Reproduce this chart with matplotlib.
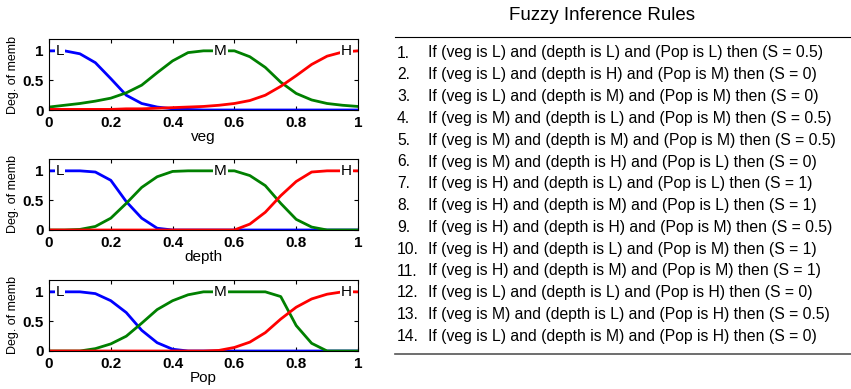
import numpy as np
import matplotlib
matplotlib.use("Agg")
from matplotlib import pyplot as plt
from matplotlib.lines import Line2D

plt.rcParams['font.family'] = ['Liberation Sans', 'DejaVu Sans']

x = np.round(np.arange(0, 1.0001, 0.05), 2)

veg_L = [1, 1, 0.95, 0.8, 0.53, 0.25, 0.11, 0.05, 0.02, 0.01, 0, 0, 0, 0, 0, 0, 0, 0, 0, 0, 0]
veg_M = [0.05, 0.08, 0.11, 0.15, 0.2, 0.29, 0.42, 0.63, 0.83, 0.97, 1, 1, 1, 0.9, 0.72, 0.47, 0.28, 0.17, 0.11, 0.08, 0.06]
veg_H = [0.01, 0.01, 0.01, 0.01, 0.01, 0.02, 0.02, 0.03, 0.04, 0.05, 0.06, 0.08, 0.11, 0.16, 0.25, 0.40, 0.58, 0.77, 0.91, 0.98, 1]

depth_L = [1, 1, 1, 0.98, 0.84, 0.48, 0.2, 0.03, 0, 0, 0, 0, 0, 0, 0, 0, 0, 0, 0, 0, 0]
depth_M = [0, 0, 0.01, 0.06, 0.2, 0.45, 0.72, 0.9, 0.99, 1, 1, 1, 1, 0.92, 0.75, 0.45, 0.18, 0.05, 0, 0, 0]
depth_H = [0, 0, 0, 0, 0, 0, 0, 0, 0, 0, 0, 0, 0, 0.1, 0.3, 0.58, 0.82, 0.98, 1, 1, 1]

pop_L = [1, 1, 1, 0.97, 0.85, 0.65, 0.35, 0.14, 0.03, 0, 0, 0, 0, 0, 0, 0, 0, 0, 0, 0, 0]
pop_M = [0, 0, 0, 0.04, 0.12, 0.25, 0.47, 0.7, 0.85, 0.95, 1, 1, 1, 1, 1, 0.92, 0.43, 0.13, 0, 0, 0]
pop_H = [0, 0, 0, 0, 0, 0, 0, 0, 0, 0, 0, 0.01, 0.06, 0.15, 0.31, 0.54, 0.74, 0.88, 0.96, 1, 1]

variables = ["veg", "depth", "Pop"]
series = [[veg_L, veg_M, veg_H], [depth_L, depth_M, depth_H], [pop_L, pop_M, pop_H]]
term_names = ["L", "M", "H"]
term_pos = [0.035, 0.555, 0.962]
colors = ["#0000ff", "#008000", "#ff0000"]

# rules
veg_terms = ["L", "L", "L", "M", "M", "M", "H", "H", "H", "H", "H", "L", "M", "L"]
depth_terms = ["L", "H", "M", "L", "M", "H", "L", "M", "H", "L", "M", "L", "L", "M"]
pop_terms = ["L", "M", "M", "M", "M", "L", "L", "L", "M", "M", "M", "H", "H", "H"]
s_values = ["0.5", "0", "0", "0.5", "0.5", "0", "1", "1", "0.5", "1", "1", "0", "0.5", "0"]

W, H = 851, 389
fig = plt.figure(figsize=(W / 100, H / 100), dpi=100)

ax_tops = [39, 159, 280]
ax_h = 71
for i in range(3):
    ax = fig.add_axes([49 / W, 1 - (ax_tops[i] + ax_h) / H, 309 / W, ax_h / H])
    for k in range(3):
        ax.plot(x, series[i][k], color=colors[k], lw=2, zorder=2)
        ax.text(term_pos[k], 1, term_names[k], ha="center", va="center", fontsize=11,
                bbox=dict(facecolor="white", edgecolor="none", pad=0.5), zorder=3)
    ax.set_xlim(0, 1)
    ax.set_ylim(0, 1.2)
    ax.set_xticks([0, 0.2, 0.4, 0.6, 0.8, 1])
    ax.set_xticklabels(["0", "0.2", "0.4", "0.6", "0.8", "1"])
    ax.set_yticks([0, 0.5, 1])
    ax.set_yticklabels(["0", "0.5", "1"])
    ax.tick_params(direction="in", top=True, right=True, length=3, labelsize=11, pad=4)
    for lab in ax.get_xticklabels() + ax.get_yticklabels():
        lab.set_fontweight("bold")
    ax.set_ylabel("Deg. of memb", fontsize=9, labelpad=2)
    ax.set_xlabel(variables[i], fontsize=11, labelpad=0)

# rules panel
fig.text(602 / W, 1 - 16 / H, "Fuzzy Inference Rules", ha="center", va="center", fontsize=13.5)
fig.add_artist(Line2D([395 / W, 1], [1 - 37 / H, 1 - 37 / H], color="black", lw=0.8))
fig.add_artist(Line2D([395 / W, 1], [1 - 354 / H, 1 - 354 / H], color="#555555", lw=1.2))
for i in range(len(s_values)):
    y = 1 - (53 + i * 21.8) / H
    fig.text(397 / W, y, "%d." % (i + 1), ha="left", va="center", fontsize=11.3)
    rule = "If (veg is %s) and (depth is %s) and (Pop is %s) then (S = %s)" % (
        veg_terms[i], depth_terms[i], pop_terms[i], s_values[i])
    fig.text(428 / W, y, rule, ha="left", va="center", fontsize=11.3)

fig.savefig("out.png", dpi=100)
